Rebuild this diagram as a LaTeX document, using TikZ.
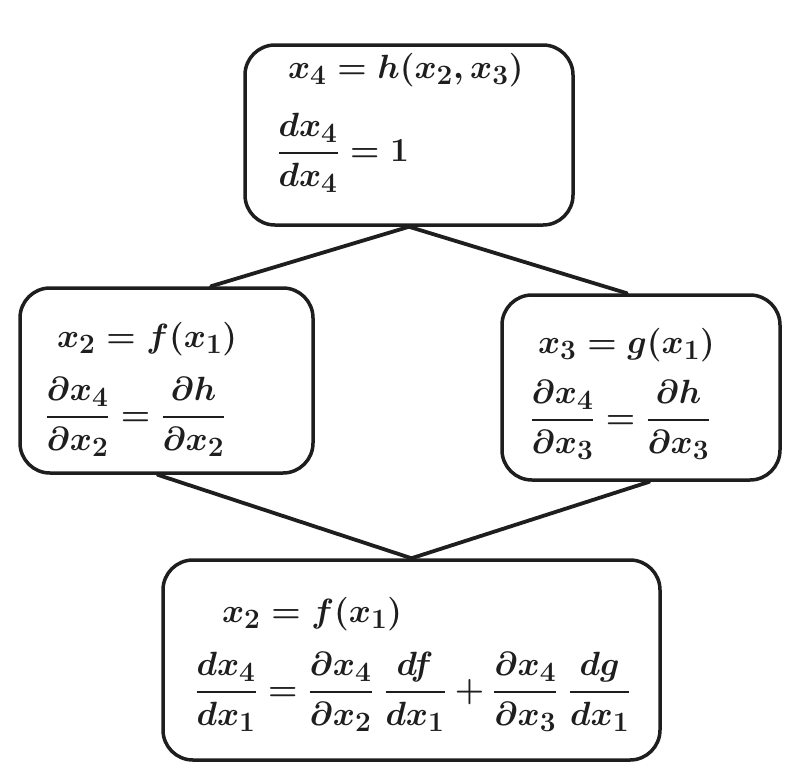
\documentclass[tikz,border=0pt]{standalone}
\usepackage{amsmath}
\usetikzlibrary{calc}
\definecolor{ink}{HTML}{1E1E1E}
\tikzset{
  box/.style={draw=ink, line width=3.5pt, rounded corners=30pt, rectangle, inner sep=0pt},
  conn/.style={draw=ink, line width=3.8pt, line cap=round},
  eq/.style={inner sep=0pt, outer sep=0pt, text=ink, scale=1.35, font=\Huge\boldmath}
}
\begin{document}
\begin{tikzpicture}[x=1pt,y=-1pt]
\useasboundingbox (0,0) rectangle (801,780);
% boxes
\node[box, minimum width=328pt, minimum height=180pt] (top) at (409,135) {};
\node[box, minimum width=293pt, minimum height=185pt] (lft) at (166.5,380.5) {};
\node[box, minimum width=278pt, minimum height=185pt] (rgt) at (641,387.5) {};
\node[box, minimum width=497pt, minimum height=200pt] (bot) at (411.5,660) {};
% texts
\node[eq, anchor=base west] (t1) at (288,78) {$x_4 = h(x_2,x_3)$};
\node[eq, anchor=west] (t2) at (277,153) {$\dfrac{dx_4}{dx_4} = 1$};
\node[eq, anchor=base west] (l1) at (57,347) {$x_2 = f(x_1)$};
\node[eq, anchor=west] (l2) at (45,417) {$\dfrac{\partial x_4}{\partial x_2} = \dfrac{\partial h}{\partial x_2}$};
\node[eq, anchor=base west] (r1) at (538,353) {$x_3 = g(x_1)$};
\node[eq, anchor=west] (r2) at (530,420) {$\dfrac{\partial x_4}{\partial x_3} = \dfrac{\partial h}{\partial x_3}$};
\node[eq, anchor=base west] (b1) at (222,622) {$x_2 = f(x_1)$};
\node[eq, anchor=west] (b2) at (195,692) {$\dfrac{dx_4}{dx_1} = \dfrac{\partial x_4}{\partial x_2}\;\dfrac{df}{dx_1} + \dfrac{\partial x_4}{\partial x_3}\;\dfrac{dg}{dx_1}$};
% connectors
\draw[conn] (top.south) -- ($(lft.north west)!0.65!(lft.north east)$);
\draw[conn] (top.south) -- ($(rgt.north west)!0.45!(rgt.north east)$);
\draw[conn] ($(lft.south west)!0.47!(lft.south east)$) -- (bot.north);
\draw[conn] ($(rgt.south west)!0.53!(rgt.south east)$) -- (bot.north);
\end{tikzpicture}
\end{document}
